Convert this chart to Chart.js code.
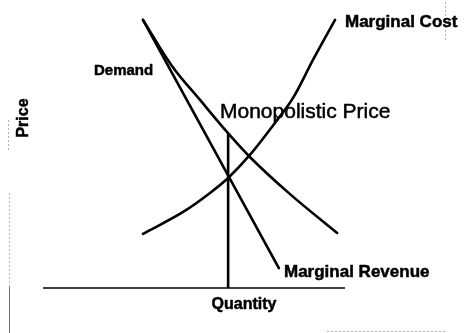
<!DOCTYPE html>
<html>
<head>
<meta charset="utf-8">
<script src="https://cdn.jsdelivr.net/npm/chart.js@4.4.0/dist/chart.umd.min.js"></script>
<style>
  html, body { margin: 0; padding: 0; background: #fff; }
  #wrap { width: 464px; height: 333px; }
</style>
</head>
<body>
<div id="wrap"><canvas id="chart" width="464" height="333"></canvas></div>
<script>
// Quantity / price readings for each curve (arbitrary units, 0-10 on both axes)
const demandQty   = [3.31, 4.27, 5.20, 6.09, 6.85, 8.18, 9.74];
const demandPrice = [9.31, 7.71, 6.53, 5.42, 4.55, 3.26, 1.91];

const mrQty   = [3.31, 7.81];
const mrPrice = [9.31, 0.69];

const mcQty   = [3.31, 4.64, 5.53, 6.13, 6.85, 7.75, 8.28, 8.94, 9.67];
const mcPrice = [1.88, 2.64, 3.30, 3.82, 4.62, 5.83, 6.60, 7.92, 9.31];

// output where MR = MC, up to the demand curve
const monoQty   = [6.13, 6.13];
const monoPrice = [0, 5.38];

const axisQty   = [0, 10];
const axisPrice = [0, 0];

const toPoints = (xs, ys) => xs.map((x, i) => ({ x, y: ys[i] }));

const line = (label, xs, ys, extra) => Object.assign({
  label,
  data: toPoints(xs, ys),
  showLine: true,
  borderColor: '#000',
  borderWidth: 2.6,
  pointRadius: 0,
  fill: false,
  clip: false,
  borderCapStyle: 'round',
  borderJoinStyle: 'round'
}, extra || {});

const FAMILY = '"Liberation Sans", Arial, Helvetica, sans-serif';
const font = (s, w) => `${w || 'bold'} ${s}px ${FAMILY}`;

// filled text with a hairline stroke so it reads as heavy as the print
const heavyText = (ctx, text, x, y) => {
  ctx.fillText(text, x, y);
  ctx.strokeText(text, x, y);
};

// text labels and the faint edge marks around the figure
const annotations = {
  id: 'annotations',
  afterDatasetsDraw(chart) {
    const { ctx } = chart;
    ctx.save();
    ctx.fillStyle = '#000';
    ctx.strokeStyle = '#000';
    ctx.lineWidth = 0.5;
    ctx.lineJoin = 'round';
    ctx.textBaseline = 'alphabetic';
    ctx.textAlign = 'left';

    ctx.font = font(17);
    heavyText(ctx, 'Marginal Cost', 345, 27);

    ctx.font = font(15);
    heavyText(ctx, 'Demand', 94, 75);

    ctx.font = font(21, 'normal');
    heavyText(ctx, 'Monopolistic Price', 220, 118);

    ctx.font = font(17);
    heavyText(ctx, 'Marginal Revenue', 284, 277);

    ctx.font = font(16);
    ctx.textAlign = 'center';
    heavyText(ctx, 'Quantity', 244, 309);

    ctx.save();
    ctx.translate(28, 118);
    ctx.rotate(-Math.PI / 2);
    heavyText(ctx, 'Price', 0, 0);
    ctx.restore();

    // edge marks
    ctx.strokeStyle = 'rgba(0,0,0,0.55)';
    ctx.lineWidth = 1;
    ctx.beginPath();
    ctx.moveTo(9.5, 287); ctx.lineTo(9.5, 333);
    ctx.stroke();
    ctx.strokeStyle = 'rgba(0,0,0,0.3)';
    ctx.setLineDash([2, 2]);
    ctx.beginPath();
    ctx.moveTo(9.5, 193); ctx.lineTo(9.5, 287);
    ctx.moveTo(8.5, 120); ctx.lineTo(8.5, 150);
    ctx.moveTo(327, 331.5); ctx.lineTo(447, 331.5);
    ctx.moveTo(445.5, 2); ctx.lineTo(445.5, 40);
    ctx.stroke();
    ctx.restore();
  }
};

new Chart(document.getElementById('chart'), {
  type: 'scatter',
  data: {
    datasets: [
      line('Axis', axisQty, axisPrice, { borderWidth: 1.6, borderCapStyle: 'butt' }),
      line('Demand', demandQty, demandPrice, { cubicInterpolationMode: 'monotone' }),
      line('Marginal Revenue', mrQty, mrPrice),
      line('Marginal Cost', mcQty, mcPrice, { cubicInterpolationMode: 'monotone' }),
      line('Monopolistic Price', monoQty, monoPrice, { borderCapStyle: 'butt' })
    ]
  },
  options: {
    responsive: false,
    animation: false,
    layout: { padding: { left: 43, right: 119, top: 0, bottom: 45 } },
    plugins: {
      legend: { display: false },
      tooltip: { enabled: false },
      title: { display: false }
    },
    scales: {
      x: { type: 'linear', min: 0, max: 10, display: false },
      y: { type: 'linear', min: 0, max: 10, display: false }
    }
  },
  plugins: [annotations]
});
</script>
</body>
</html>
